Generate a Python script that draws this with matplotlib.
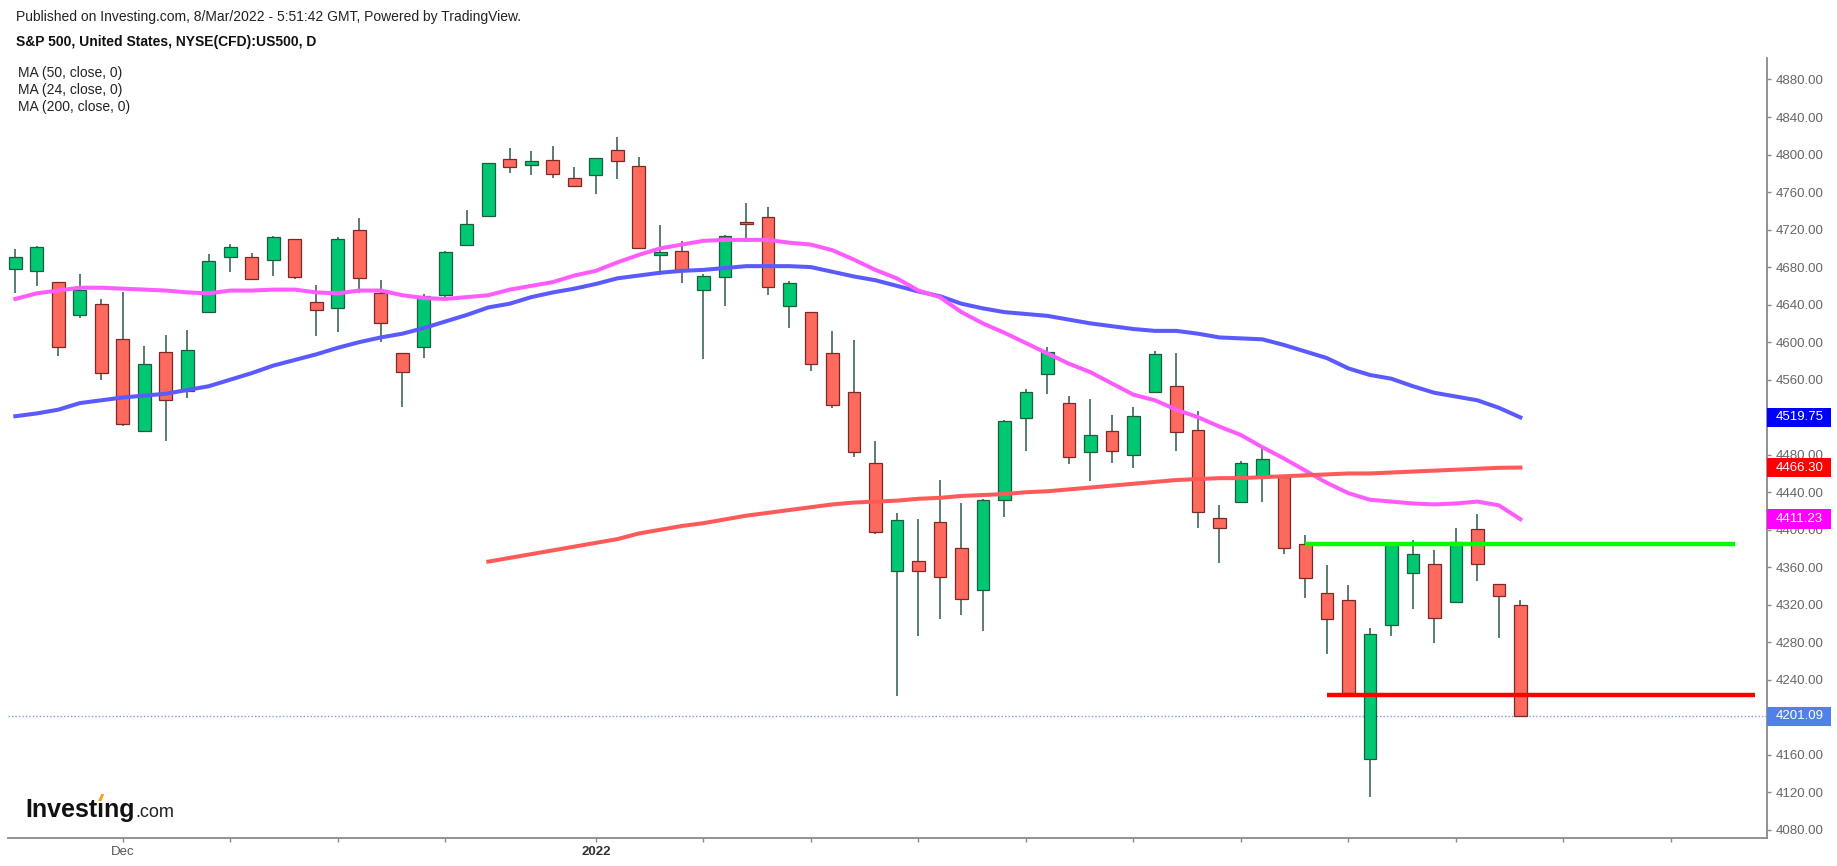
import numpy as np
import matplotlib
matplotlib.use("Agg")
import matplotlib.pyplot as plt
import matplotlib.transforms as mtransforms
from matplotlib.patches import Rectangle, Polygon

plt.rcParams['font.family'] = ['Liberation Sans', 'DejaVu Sans']

# daily bars, 23 Nov 2021 .. 7 Mar 2022
dates = ['11-23', '11-24', '11-26', '11-29', '11-30', '12-01', '12-02', '12-03', '12-06', '12-07',
         '12-08', '12-09', '12-10', '12-13', '12-14', '12-15', '12-16', '12-17', '12-20', '12-21',
         '12-22', '12-23', '12-27', '12-28', '12-29', '12-30', '12-31', '01-03', '01-04', '01-05',
         '01-06', '01-07', '01-10', '01-11', '01-12', '01-13', '01-14', '01-18', '01-19', '01-20',
         '01-21', '01-24', '01-25', '01-26', '01-27', '01-28', '01-31', '02-01', '02-02', '02-03',
         '02-04', '02-07', '02-08', '02-09', '02-10', '02-11', '02-14', '02-15', '02-16', '02-17',
         '02-18', '02-22', '02-23', '02-24', '02-25', '02-28', '03-01', '03-02', '03-03', '03-04',
         '03-07']

opens = [4678.48, 4675.78, 4664.63, 4628.75, 4640.25, 4602.82, 4504.73, 4589.49, 4548.37, 4631.97,
         4690.86, 4691.00, 4687.64, 4710.30, 4642.99, 4636.46, 4719.13, 4652.50, 4587.90, 4594.96,
         4650.36, 4703.96, 4733.99, 4795.49, 4788.64, 4794.23, 4775.21, 4778.14, 4804.51, 4787.99,
         4693.39, 4697.66, 4655.34, 4669.14, 4728.59, 4733.56, 4637.99, 4632.24, 4588.03, 4547.35,
         4471.38, 4356.32, 4366.64, 4408.43, 4380.58, 4336.19, 4431.79, 4519.57, 4566.39, 4535.41,
         4482.79, 4505.75, 4480.02, 4547.00, 4553.24, 4506.27, 4412.61, 4429.28, 4455.75, 4456.06,
         4384.57, 4332.74, 4324.93, 4155.77, 4298.38, 4354.17, 4363.14, 4322.56, 4401.31, 4342.12,
         4320.00]
highs = [4699.39, 4702.87, 4664.63, 4672.95, 4646.02, 4652.94, 4595.46, 4608.03, 4612.60, 4694.04,
         4705.06, 4695.26, 4713.57, 4710.30, 4660.47, 4712.60, 4731.99, 4666.70, 4587.90, 4651.14,
         4697.67, 4740.74, 4791.49, 4807.02, 4804.06, 4808.93, 4786.83, 4796.64, 4818.62, 4797.70,
         4725.01, 4707.95, 4673.02, 4714.13, 4748.83, 4744.13, 4665.13, 4632.24, 4611.55, 4602.11,
         4494.52, 4417.35, 4411.01, 4453.23, 4428.74, 4432.72, 4516.89, 4550.49, 4595.31, 4542.88,
         4539.66, 4521.86, 4531.32, 4590.03, 4588.92, 4526.33, 4426.22, 4472.77, 4489.55, 4456.06,
         4394.60, 4362.12, 4341.51, 4294.73, 4385.34, 4388.84, 4378.45, 4401.48, 4416.78, 4342.12,
         4325.00]
lows = [4652.66, 4659.89, 4585.43, 4625.26, 4560.00, 4510.27, 4504.73, 4495.12, 4540.51, 4631.97,
        4674.52, 4665.98, 4670.24, 4667.60, 4606.52, 4611.22, 4651.89, 4600.22, 4531.10, 4583.16,
        4645.53, 4703.96, 4733.99, 4780.04, 4778.08, 4775.33, 4765.75, 4758.17, 4774.27, 4699.44,
        4671.26, 4662.74, 4582.24, 4638.27, 4706.71, 4650.29, 4614.75, 4568.70, 4530.20, 4477.95,
        4395.34, 4222.62, 4287.11, 4304.80, 4309.50, 4292.46, 4414.02, 4483.53, 4544.32, 4470.39,
        4451.50, 4471.47, 4465.40, 4547.00, 4484.31, 4401.41, 4364.84, 4429.28, 4429.68, 4373.81,
        4327.22, 4267.11, 4221.51, 4114.65, 4286.83, 4315.12, 4279.54, 4322.56, 4345.56, 4284.98,
        4199.85]
closes = [4690.70, 4701.46, 4594.62, 4655.27, 4567.00, 4513.04, 4577.10, 4538.43, 4591.67, 4686.75,
          4701.21, 4667.45, 4712.02, 4668.97, 4634.09, 4709.85, 4668.67, 4620.64, 4568.02, 4649.23,
          4696.56, 4725.79, 4791.19, 4786.35, 4793.06, 4778.73, 4766.18, 4796.56, 4793.54, 4700.58,
          4696.05, 4677.03, 4670.29, 4713.07, 4726.35, 4659.03, 4662.85, 4577.11, 4532.76, 4482.73,
          4397.94, 4410.13, 4356.45, 4349.93, 4326.51, 4431.85, 4515.55, 4546.54, 4589.38, 4477.44,
          4500.53, 4483.87, 4521.54, 4587.18, 4504.08, 4418.64, 4401.67, 4471.07, 4475.01, 4380.26,
          4348.87, 4304.76, 4225.50, 4288.70, 4384.65, 4373.94, 4306.26, 4386.54, 4363.49, 4328.87,
          4201.09]

# moving averages
ma50 = [4521, 4524, 4528, 4535, 4538, 4541, 4543, 4545, 4549, 4553,
        4560, 4567, 4575, 4581, 4587, 4594, 4600, 4605, 4609, 4615,
        4622, 4629, 4637, 4641, 4648, 4653, 4657, 4662, 4668, 4671,
        4674, 4676, 4677, 4679, 4681, 4681, 4681, 4680, 4675, 4670,
        4666, 4660, 4654, 4649, 4641, 4636, 4632, 4630, 4628, 4624,
        4620, 4617, 4614, 4612, 4612, 4609, 4605, 4604, 4603, 4597,
        4590, 4583, 4572, 4565, 4561, 4553, 4546, 4542, 4538, 4530,
        4519.75]
ma24 = [4646, 4652, 4655, 4658, 4658, 4657, 4656, 4655, 4653, 4652,
        4655, 4655, 4656, 4656, 4653, 4652, 4655, 4655, 4650, 4647,
        4646, 4648, 4650, 4656, 4660, 4664, 4671, 4676, 4685, 4693,
        4700, 4704, 4708, 4709, 4709, 4709, 4706, 4704, 4698, 4688,
        4677, 4668, 4655, 4648, 4632, 4620, 4610, 4599, 4588, 4577,
        4568, 4556, 4544, 4538, 4528, 4520, 4510, 4501, 4488, 4476,
        4463, 4450, 4439, 4432, 4430, 4428, 4427, 4428, 4430, 4426,
        4411.23]
ma200_first_bar = 22
ma200 = [4366, 4370, 4374, 4378, 4382, 4386, 4390, 4396, 4400, 4404,
         4407, 4411, 4415, 4418, 4421, 4424, 4427, 4429, 4430, 4431,
         4433, 4434, 4436, 4437, 4438, 4440, 4441, 4443, 4445, 4447,
         4449, 4451, 4453, 4454, 4455, 4455, 4456, 4457, 4458, 4459,
         4460, 4460, 4461, 4462, 4463, 4464, 4465, 4466, 4466.30]

# drawn levels: (price, first bar, last bar)
resistance = (4384.8, 60, 80.0)
support = (4224.1, 61, 80.9)
last_price = 4201.09

y_ticks = list(range(4080, 4881, 40))
x_tick_bars = [5, 10, 15, 20, 27, 32, 37, 42, 47, 52, 57, 62, 67, 72, 77]
x_tick_names = {5: 'Dec', 27: '2022'}

W, H = 1837, 866
fig = plt.figure(figsize=(W / 100, H / 100), dpi=100)
ax = fig.add_axes([8 / W, 1 - 837.5 / H, (1767 - 8) / W, (837.5 - 58) / H])
ax.set_xlim(-0.34, 81.47)
ax.set_ylim(4071.9, 4902.9)

green, green_edge = '#00C872', '#1E5C40'
red, red_edge = '#FF6A5E', '#7A2A26'
wick = '#2F5A47'

o = np.array(opens)
c = np.array(closes)
bars = np.arange(len(c))
up = c >= o
lo = np.minimum(o, c)
hgt = np.maximum(np.abs(c - o), 1.2)

ax.vlines(bars, lows, highs, color=wick, lw=1.1, zorder=2)
ax.bar(bars[up], hgt[up], bottom=lo[up], width=0.59, color=green,
       edgecolor=green_edge, linewidth=0.9, zorder=3)
ax.bar(bars[~up], hgt[~up], bottom=lo[~up], width=0.59, color=red,
       edgecolor=red_edge, linewidth=0.9, zorder=3)

ax.plot(bars, ma50, color='#5A5AFF', lw=2.9, zorder=4, solid_joinstyle='round')
ax.plot(bars, ma24, color='#FF5CFF', lw=2.9, zorder=4, solid_joinstyle='round')
ax.plot(np.arange(ma200_first_bar, ma200_first_bar + len(ma200)), ma200,
        color='#FF5A5A', lw=2.9, zorder=4, solid_joinstyle='round')

ax.hlines(resistance[0], resistance[1], resistance[2], color='#00FF00', lw=3.2, zorder=5)
ax.hlines(support[0], support[1], support[2], color='#FF0000', lw=3.2, zorder=5)
ax.axhline(last_price, color='#7D9DE8', lw=1.0, ls=(0, (1, 1.5)), zorder=1)

# axes styling
for s in ['top', 'left']:
    ax.spines[s].set_visible(False)
for s in ['right', 'bottom']:
    ax.spines[s].set_color('#8A8A8A')
    ax.spines[s].set_linewidth(1.3)
ax.yaxis.tick_right()
ax.set_yticks(y_ticks)
ax.set_yticklabels([f'{v:.2f}' for v in y_ticks])
ax.tick_params(axis='y', direction='out', length=3, width=1, color='#8A8A8A',
               labelcolor='#666666', labelsize=9.5, pad=3.5)
ax.set_xticks(x_tick_bars)
ax.set_xticklabels([x_tick_names.get(b, '') for b in x_tick_bars])
ax.tick_params(axis='x', direction='out', length=3, width=1, color='#8A8A8A',
               labelcolor='#555555', labelsize=9.5, pad=3)
for lab in ax.get_xticklabels():
    if lab.get_text() == '2022':
        lab.set_fontweight('bold')
        lab.set_color('#333333')

# price boxes on the scale
blend = mtransforms.blended_transform_factory(ax.transAxes, ax.transData)
axw = 1767 - 8
for val, col in [(ma50[-1], '#0000FF'), (ma200[-1], '#FF0000'),
                 (ma24[-1], '#FF00FF'), (last_price, '#5081E8')]:
    ax.add_patch(Rectangle((1.0, val - 10.3), 64 / axw, 20.7, transform=blend,
                           facecolor=col, edgecolor='none', clip_on=False, zorder=10))
    ax.text(1.0 + 9 / axw, val, f'{val:.2f}', transform=blend, color='white',
            fontsize=9.5, va='center', ha='left', clip_on=False, zorder=11)

# header and legend
def fy(ypx):
    return 1 - ypx / H

fig.text(16 / W, fy(17.3), 'Published on Investing.com, 8/Mar/2022 - 5:51:42 GMT, Powered by TradingView.',
         fontsize=10, color='#222222', va='center')
fig.text(16 / W, fy(42.3), 'S&P 500, United States, NYSE(CFD):US500, D',
         fontsize=10, fontweight='bold', color='#111111', va='center')
for i, lbl in enumerate(['MA (50, close, 0)', 'MA (24, close, 0)', 'MA (200, close, 0)']):
    fig.text(18.4 / W, fy(73 + i * 17), lbl, fontsize=10, color='#222222', va='center')

# logo
fig.canvas.draw()
rend = fig.canvas.get_renderer()
base = fy(817)
t1 = fig.text(25 / W, base, 'Invest\u0131ng', fontsize=18, fontweight='bold',
              color='#111111', va='baseline')
bb = t1.get_window_extent(rend)
fig.text((bb.x1 + 1) / W, base, '.com', fontsize=13, color='#222222', va='baseline')
pre = fig.text(25 / W, base, 'Invest', fontsize=18, fontweight='bold', va='baseline', alpha=0)
bp = pre.get_window_extent(rend)
dx = bp.x1 + 3.5
ybot = H - 801
dot = Polygon([(dx - 2.5, ybot), (dx + 1.0, ybot), (dx + 3.5, ybot + 7), (dx + 0.5, ybot + 7)],
              closed=True, transform=None, facecolor='#F5A21E', edgecolor='none')
fig.patches.append(dot)

fig.savefig('out.png', dpi=100, facecolor='white')
